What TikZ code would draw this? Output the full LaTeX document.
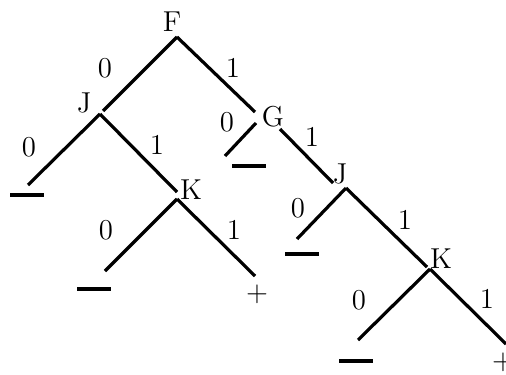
\documentclass[tikz,border=0pt]{standalone}
\usepackage{tikz}

\begin{document}
\begin{tikzpicture}[
    x=0.5pt, y=-0.5pt,
    every node/.style={font=\Large, inner sep=0pt},
    branch/.style={line width=1.6pt},
    letter/.style={anchor=base},
    negleaf/.style={fill=black, minimum width=17pt, minimum height=1.6pt}
]
\useasboundingbox (0,0) rectangle (506,374);

% === Test nodes (letters) ===
\node[letter] (F)  at (172,32)  {F};
\node[letter] (J1) at (84,112)  {J};
\node[letter] (K1) at (191,199) {K};
\node[letter] (G)  at (273,126) {G};
\node[letter] (J2) at (340,183) {J};
\node[letter] (K2) at (441,268) {K};

% === Branch points (where the lines leave / arrive) ===
\coordinate (Fout)  at (177,37);
\coordinate (J1in)  at (103,111);
\coordinate (J1out) at (100,114);
\coordinate (K1in)  at (177,192);
\coordinate (K1out) at (177,199);
\coordinate (Gin)   at (255,112);
\coordinate (Gout0) at (256,123);
\coordinate (Gout1) at (280,129);
\coordinate (J2in)  at (333,183);
\coordinate (J2out) at (346,188);
\coordinate (K2in)  at (427,267);
\coordinate (K2out) at (430,269);

% free ends above the leaves
\coordinate (e1) at (28,185);
\coordinate (e2) at (105,271);
\coordinate (e3) at (255,276);
\coordinate (e4) at (225,156);
\coordinate (e5) at (297,239);
\coordinate (e6) at (358,340);
\coordinate (e7) at (506,344);

% === Leaves ===
\node[negleaf] (n1) at (27,195)  {};
\node[negleaf] (n2) at (94,289)  {};
\node[negleaf] (n3) at (249,166) {};
\node[negleaf] (n4) at (302,254) {};
\node[negleaf] (n5) at (356,361) {};
\node (p1) at (257,294) {$+$};
\node (p2) at (503,362) {$+$};

% === Branches ===
\draw[branch] (Fout) -- (J1in);
\draw[branch] (Fout) -- (Gin);
\draw[branch] (J1out) -- (e1);
\draw[branch] (J1out) -- (K1in);
\draw[branch] (K1out) -- (e2);
\draw[branch] (K1out) -- (e3);
\draw[branch] (Gout0) -- (e4);
\draw[branch] (Gout1) -- (J2in);
\draw[branch] (J2out) -- (e5);
\draw[branch] (J2out) -- (K2in);
\draw[branch] (K2out) -- (e6);
\draw[branch] (K2out) -- (e7);

% === Branch labels ===
\node (b1)  at (105,68)  {0};
\node (b2)  at (233,68)  {1};
\node (b3)  at (29,147)  {0};
\node (b4)  at (157,145) {1};
\node (b5)  at (227,122) {0};
\node (b6)  at (312,137) {1};
\node (b7)  at (106,230) {0};
\node (b8)  at (234,230) {1};
\node (b9)  at (298,208) {0};
\node (b10) at (405,220) {1};
\node (b11) at (359,300) {0};
\node (b12) at (487,299) {1};

\end{tikzpicture}
\end{document}
